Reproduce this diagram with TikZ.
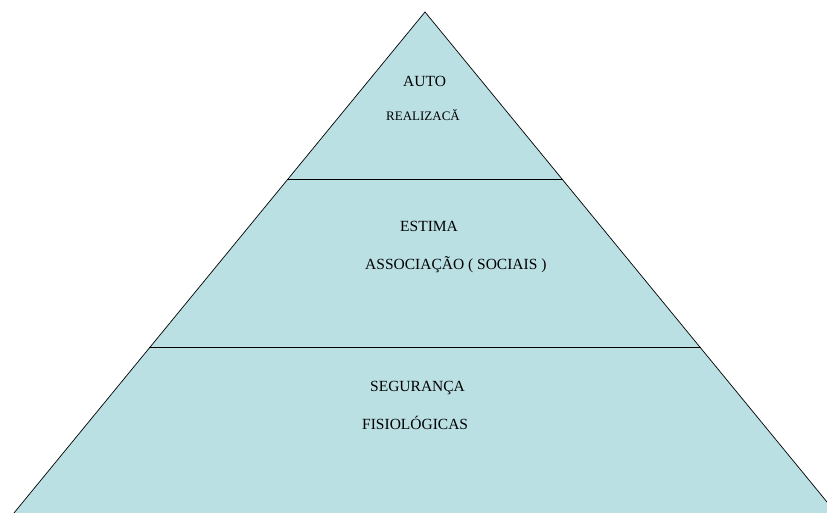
\documentclass[tikz,border=0pt]{standalone}
\usepackage{fontspec}
\setmainfont{Liberation Serif}
\usetikzlibrary{calc}
\definecolor{pyrfill}{RGB}{186,224,227}

\begin{document}
\begin{tikzpicture}[x=1pt,y=1pt,
   label/.style={font=\fontsize{15.5}{18}\selectfont,anchor=base west,inner sep=0pt},
   smalllabel/.style={label,font=\fontsize{13}{16}\selectfont}]
   \useasboundingbox (0,0) rectangle (827,513);
   \coordinate (apex) at (425,501);
   \coordinate (bl) at (11.5,-3);
   \coordinate (br) at (838.5,-3);
   \filldraw[fill=pyrfill,draw=black,line width=0.7pt] (apex) -- (bl) -- (br) -- cycle;
   % level borders
   \draw[line width=1pt] ($(apex)!1/3!(bl)$) coordinate (l1) -- ($(apex)!1/3!(br)$) coordinate (r1);
   \draw[line width=1pt] ($(apex)!2/3!(bl)$) coordinate (l2) -- ($(apex)!2/3!(br)$) coordinate (r2);
   % texts
   \node[label] (auto) at (403,426.3) {AUTO};
   \node[smalllabel] (realiz) at (386,392) {REALIZACĂ};
   \node[label] (estima) at (400,281) {ESTIMA};
   \node[label] (assoc) at (365,243) {ASSOCIAÇÃO ( SOCIAIS )};
   \node[label] (seg) at (370,121) {SEGURANÇA};
   \node[label] (fisio) at (362,83) {FISIOLÓGICAS};
\end{tikzpicture}
\end{document}
